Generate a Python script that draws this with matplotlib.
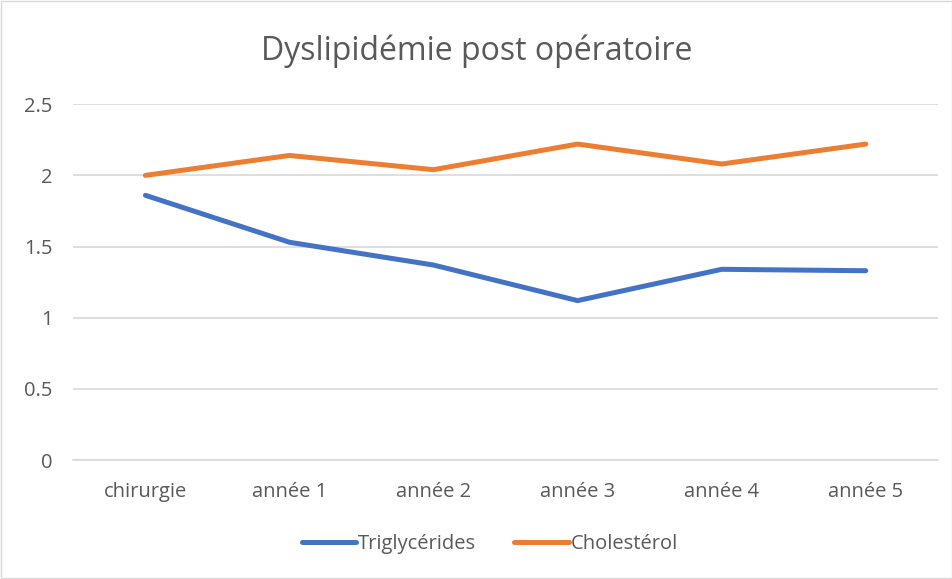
import matplotlib.pyplot as plt
from matplotlib.patches import Rectangle

# données
categories = ['chirurgie', 'année 1', 'année 2', 'année 3', 'année 4', 'année 5']
triglycerides = [1.86, 1.53, 1.37, 1.12, 1.34, 1.33]
cholesterol = [2.0, 2.14, 2.04, 2.22, 2.08, 2.22]

plt.rcParams['font.family'] = ['Open Sans', 'DejaVu Sans']
gris = '#595959'

fig = plt.figure(figsize=(9.53, 5.79), dpi=100)
ax = fig.add_axes([0.077, 0.2055, 0.907, 0.6145])

x = range(len(categories))
ax.plot(x, triglycerides, color='#4472C4', lw=3.6, solid_capstyle='round', label='Triglycérides')
ax.plot(x, cholesterol, color='#ED7D31', lw=3.6, solid_capstyle='round', label='Cholestérol')

ax.set_xlim(-0.5, len(categories) - 0.5)
ax.set_ylim(0, 2.5)
ax.set_yticks([0, 0.5, 1, 1.5, 2, 2.5])
ax.set_yticklabels(['0', '0.5', '1', '1.5', '2', '2.5'])
ax.set_xticks(list(x))
ax.set_xticklabels(categories)
ax.tick_params(length=0, labelsize=14.5, colors=gris)
ax.tick_params(axis='x', pad=16)
ax.tick_params(axis='y', pad=15)
ax.grid(axis='y', color='#D9D9D9', lw=1.2)
ax.set_axisbelow(True)
for s in ['top', 'right', 'left']:
    ax.spines[s].set_visible(False)
ax.spines['bottom'].set_color('#D9D9D9')
ax.spines['bottom'].set_linewidth(1.2)

fig.text(0.5, 0.912, 'Dyslipidémie post opératoire', ha='center', va='center', fontsize=23, color=gris)

ax.legend(loc='center', bbox_to_anchor=(0.514, 0.06), bbox_transform=fig.transFigure,
          ncol=2, frameon=False, fontsize=14.5, labelcolor=gris,
          handlelength=2.7, handletextpad=0.1, columnspacing=1.9)

# cadre du graphique
fig.patches.append(Rectangle((0.001, 0.002), 0.998, 0.996, transform=fig.transFigure,
                             fill=False, ec='#D9D9D9', lw=1))

fig.savefig('out.png', dpi=100)
